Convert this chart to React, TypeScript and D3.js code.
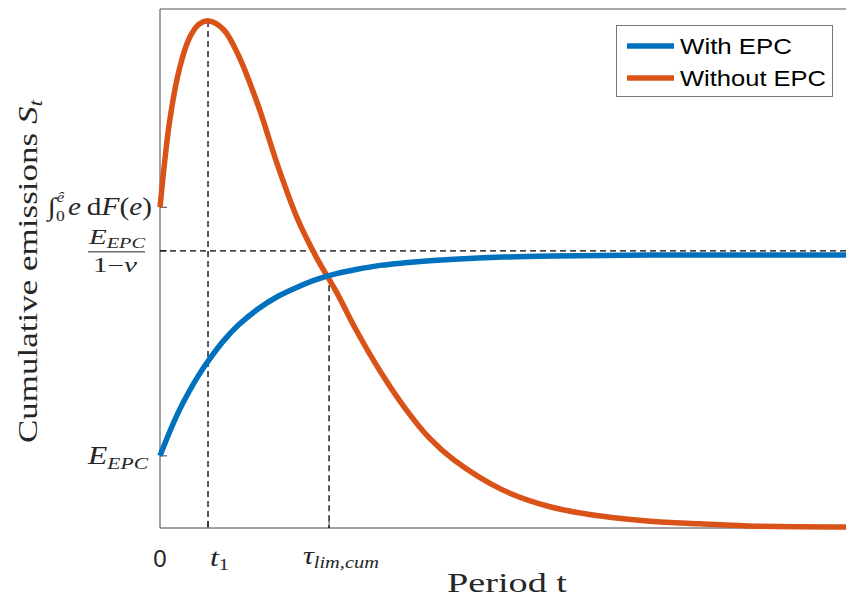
import React from "react";
import * as d3 from "d3";

// Period t (sample points)
const periods = [0, 0.2, 0.4, 0.6, 0.8, 1.0, 1.3, 1.6, 2.0, 2.4, 2.8, 3.2, 3.6, 4.0, 4.5, 5.0, 5.5, 6.0, 7.0, 8.0, 9.0, 10, 11, 12, 14];

// Cumulative emissions, normalised units
const withEPC = [0.139, 0.186, 0.228, 0.264, 0.296, 0.324, 0.361, 0.391, 0.422, 0.446, 0.464, 0.479, 0.49, 0.498, 0.506, 0.511, 0.515, 0.518, 0.522, 0.524, 0.525, 0.526, 0.526, 0.526, 0.526];
const withoutEPC = [0.618, 0.786, 0.886, 0.944, 0.971, 0.977, 0.96, 0.911, 0.815, 0.699, 0.597, 0.52, 0.455, 0.382, 0.301, 0.231, 0.173, 0.131, 0.073, 0.04, 0.023, 0.013, 0.008, 0.004, 0.002];

// Marked levels and periods
const E_EPC = 0.139;
const LIMIT = 0.534; // E_EPC / (1 - nu)
const INTEGRAL = 0.618;
const T1 = 0.98;
const TAU = 3.45;
const PEAK = 0.977;
const CROSS = 0.487;

const seriesNames = ["With EPC", "Without EPC"];
const legendWidths = [112, 146];
const COLORS = ["#0072BD", "#D95319"];

const W = 846;
const H = 601;
const M = { left: 160, top: 9, right: 0, bottom: 73 };

const SERIF = "'Liberation Serif', 'DejaVu Serif', serif";
const SANS = "'Liberation Sans', Arial, sans-serif";
const INK = "#262626";

export default function App() {
  const x = d3.scaleLinear().domain([0, 14]).range([M.left, W - M.right]);
  const y = d3.scaleLinear().domain([0, 1]).range([H - M.bottom, M.top]);
  const line = d3
    .line<number>()
    .x((_, i) => x(periods[i]))
    .y((v) => y(v))
    .curve(d3.curveCatmullRom.alpha(0.5));

  const x0 = x(0);
  const yb = y(0);
  const dash = "6 4";

  return (
    <svg
      width={W}
      height={H}
      style={{ position: "absolute", left: 0, top: 0, background: "#fff" }}
    >
      {/* axes box */}
      <line x1={x0} x2={W} y1={y(1)} y2={y(1)} stroke="#555" strokeWidth={1} />
      <line x1={x0} x2={x0} y1={y(1)} y2={yb} stroke="#444" strokeWidth={1} />
      <line x1={x0} x2={W} y1={yb} y2={yb} stroke="#444" strokeWidth={1} />

      {/* inner ticks */}
      {[T1, TAU].map((t) => (
        <line key={t} x1={x(t)} x2={x(t)} y1={yb} y2={yb - 7} stroke="#444" />
      ))}
      {[E_EPC, LIMIT, INTEGRAL].map((v) => (
        <line key={v} x1={x0} x2={x0 + 7} y1={y(v)} y2={y(v)} stroke="#444" />
      ))}

      {/* reference lines */}
      <line x1={x0} x2={W} y1={y(LIMIT)} y2={y(LIMIT)} stroke="#000" strokeWidth={1.3} strokeDasharray={dash} />
      <line x1={x(T1)} x2={x(T1)} y1={y(PEAK)} y2={yb} stroke="#000" strokeWidth={1.3} strokeDasharray={dash} />
      <line x1={x(TAU)} x2={x(TAU)} y1={y(CROSS)} y2={yb} stroke="#000" strokeWidth={1.3} strokeDasharray={dash} />

      {/* series */}
      <path d={line(withoutEPC) ?? ""} fill="none" stroke={COLORS[1]} strokeWidth={5.5} strokeLinejoin="round" />
      <path d={line(withEPC) ?? ""} fill="none" stroke={COLORS[0]} strokeWidth={5.5} strokeLinejoin="round" />

      {/* x tick labels */}
      <text x={x(0)} y={567} textAnchor="middle" fontFamily={SANS} fontSize={24} fill={INK}>0</text>
      <text x={210} y={566} fontFamily={SERIF} fontSize={25} fill={INK} textLength={19} lengthAdjust="spacingAndGlyphs">
        <tspan fontStyle="italic">t</tspan>
        <tspan fontSize={16} dy={4}>1</tspan>
      </text>
      <text x={303} y={564} fontFamily={SERIF} fontSize={25} fill={INK} textLength={76} lengthAdjust="spacingAndGlyphs">
        <tspan fontStyle="italic">τ</tspan>
        <tspan fontSize={17} fontStyle="italic" dy={4}>lim,cum</tspan>
      </text>

      {/* y tick labels */}
      <text x={88} y={y(E_EPC) + 8} fontFamily={SERIF} fontSize={25} fill={INK} textLength={60} lengthAdjust="spacingAndGlyphs">
        <tspan fontStyle="italic">E</tspan>
        <tspan fontSize={17} fontStyle="italic" dy={5}>EPC</tspan>
      </text>
      <g fontFamily={SERIF} fill={INK}>
        <text x={89} y={y(LIMIT) - 7} fontSize={20} textLength={56} lengthAdjust="spacingAndGlyphs">
          <tspan fontStyle="italic">E</tspan>
          <tspan fontSize={14} fontStyle="italic" dy={4}>EPC</tspan>
        </text>
        <line x1={88} x2={145} y1={y(LIMIT) + 1} y2={y(LIMIT) + 1} stroke={INK} strokeWidth={1} />
        <text x={93} y={y(LIMIT) + 21} fontSize={20} textLength={44} lengthAdjust="spacingAndGlyphs">
          1−<tspan fontStyle="italic">ν</tspan>
        </text>
      </g>
      <text x={48} y={y(INTEGRAL) + 8} fontFamily={SERIF} fontSize={25} fill={INK} textLength={104} lengthAdjust="spacingAndGlyphs">
        <tspan>∫</tspan>
        <tspan fontSize={15} dy={6}>0</tspan>
        <tspan fontSize={15} fontStyle="italic" dy={-19} dx={-7}>ê</tspan>
        <tspan fontStyle="italic" dy={13} dx={3}>e</tspan>
        <tspan dx={5}>d</tspan>
        <tspan fontStyle="italic">F</tspan>
        <tspan>(</tspan>
        <tspan fontStyle="italic">e</tspan>
        <tspan>)</tspan>
      </text>

      {/* axis titles */}
      <text x={447} y={592} fontFamily={SERIF} fontSize={28} fill={INK} textLength={120} lengthAdjust="spacingAndGlyphs">
        Period t
      </text>
      <text
        transform={`translate(37,443) rotate(-90)`}
        fontFamily={SERIF}
        fontSize={28}
        fill={INK}
        textLength={343}
        lengthAdjust="spacingAndGlyphs"
      >
        Cumulative emissions <tspan fontStyle="italic">S</tspan>
        <tspan fontSize={19} fontStyle="italic" dy={5}>t</tspan>
      </text>

      {/* legend */}
      <g>
        <rect x={616.5} y={25.5} width={216} height={71} fill="#fff" stroke="#777" strokeWidth={1} />
        {seriesNames.map((name, i) => (
          <g key={name} transform={`translate(0,${46 + i * 32})`}>
            <line x1={627} x2={674} y1={0} y2={0} stroke={COLORS[i]} strokeWidth={5.5} />
            <text x={680} y={8} fontFamily={SANS} fontSize={22} fill="#000" textLength={legendWidths[i]} lengthAdjust="spacingAndGlyphs">
              {name}
            </text>
          </g>
        ))}
      </g>
    </svg>
  );
}
